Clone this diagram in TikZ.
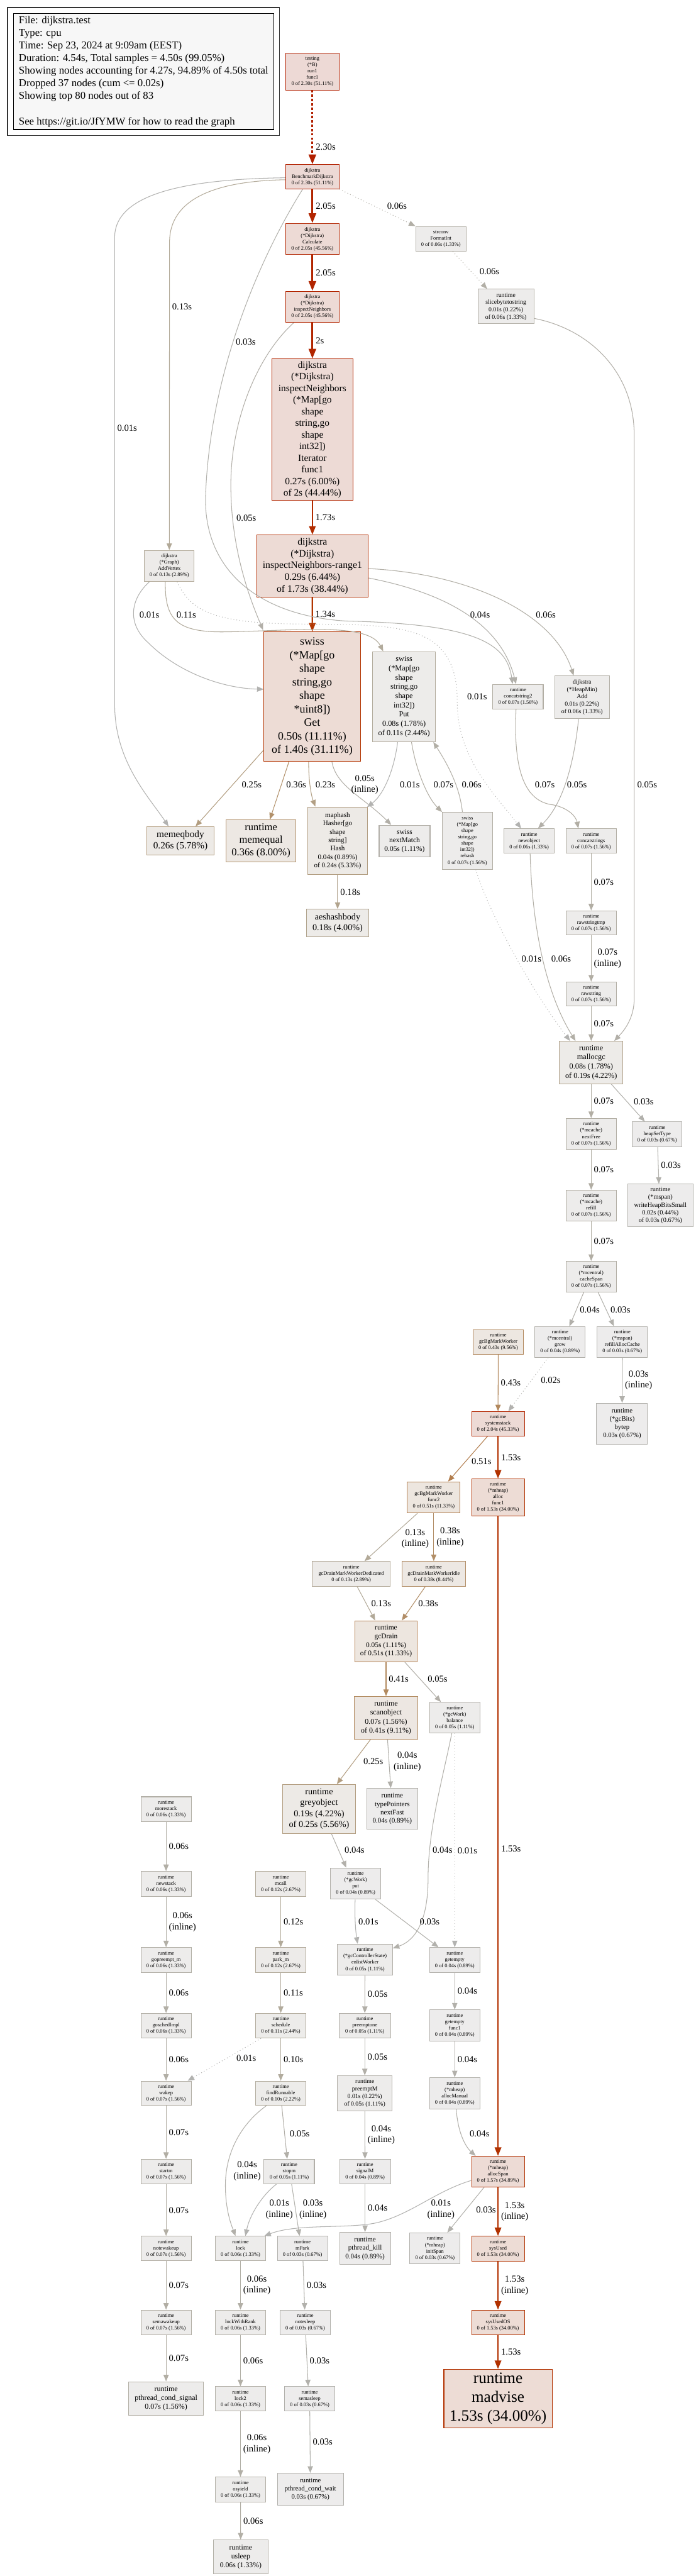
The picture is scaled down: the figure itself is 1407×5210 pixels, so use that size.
\documentclass[tikz,border=0pt]{standalone}
\usepackage{fontspec}
\setmainfont{Liberation Serif}
\usetikzlibrary{arrows.meta,calc,fit}

% pprof colour ramp: f = node fill, l = node border / edge
\definecolor{f230}{HTML}{EDD9D5}\definecolor{l230}{HTML}{B22000}
\definecolor{f205}{HTML}{EDDAD5}\definecolor{l205}{HTML}{B22500}
\definecolor{f200}{HTML}{EDDAD5}\definecolor{l200}{HTML}{B22600}
\definecolor{f173}{HTML}{EDDBD5}\definecolor{l173}{HTML}{B22C00}
\definecolor{f157}{HTML}{EDDBD5}\definecolor{l157}{HTML}{B23000}
\definecolor{f153}{HTML}{EDDCD5}\definecolor{l153}{HTML}{B23100}
\definecolor{f140}{HTML}{EDDCD5}\definecolor{l140}{HTML}{B23400}
\definecolor{l134}{HTML}{B23600}
\definecolor{f51}{HTML}{EDE6DF}\definecolor{l51}{HTML}{B27D4D}
\definecolor{f43}{HTML}{EDE7E1}\definecolor{l43}{HTML}{B2885D}
\definecolor{f41}{HTML}{EDE7E2}\definecolor{l41}{HTML}{B28A5F}
\definecolor{f38}{HTML}{EDE8E3}\definecolor{l38}{HTML}{B28E67}
\definecolor{f36}{HTML}{EDE8E3}\definecolor{l36}{HTML}{B2916B}
\definecolor{f26}{HTML}{EDEAE6}\definecolor{l26}{HTML}{B29C7E}
\definecolor{f25}{HTML}{EDEAE6}\definecolor{l25}{HTML}{B29D80}
\definecolor{f24}{HTML}{EDEAE6}\definecolor{l24}{HTML}{B29E82}
\definecolor{l23}{HTML}{B29F84}
\definecolor{f19}{HTML}{EDEBE8}\definecolor{l19}{HTML}{B2A38C}
\definecolor{f18}{HTML}{EDEBE8}\definecolor{l18}{HTML}{B2A48E}
\definecolor{f13}{HTML}{EDEBE9}\definecolor{l13}{HTML}{B2A998}
\definecolor{f12}{HTML}{EDEBE9}\definecolor{l12}{HTML}{B2AA9A}
\definecolor{f11}{HTML}{EDECEA}\definecolor{l11}{HTML}{B2AB9C}
\definecolor{f10}{HTML}{EDECEA}\definecolor{l10}{HTML}{B2AC9E}
\definecolor{f07}{HTML}{EDECEB}\definecolor{l07}{HTML}{B2AEA4}
\definecolor{f06}{HTML}{EDECEB}\definecolor{l06}{HTML}{B2AFA6}
\definecolor{f05}{HTML}{EDECEB}\definecolor{l05}{HTML}{B2AFA8}
\definecolor{f04}{HTML}{EDECEC}\definecolor{l04}{HTML}{B2B0AA}
\definecolor{f03}{HTML}{EDECEC}\definecolor{l03}{HTML}{B2B1AC}
\definecolor{l02}{HTML}{B2B1AE}
\definecolor{l01}{HTML}{B2B2B0}

\newcommand{\fsz}[1]{\fontsize{#1}{\fpeval{1.2*#1}}\selectfont}

\tikzset{
  fn/.style={rectangle, line width=1pt, inner sep=0pt, align=center,
             font=\fsz{8}},
  clr/.style={fill=f#1, draw=l#1},
  wh/.style 2 args={minimum width=#1*0.75pt, minimum height=#2*0.75pt},
  fs/.style={font=\fsz{#1}},
  legend/.style={rectangle, draw=black, line width=1pt, fill=black!3,
                 align=left, inner sep=0pt, font=\fsz{16}},
  flow/.style={-{Triangle[length=10pt,width=8pt]}, line width=1pt, draw=#1},
  w2/.style={line width=2pt, -{Triangle[length=13pt,width=10pt]}},
  w3/.style={line width=3pt, -{Triangle[length=15pt,width=11pt]}},
  resid/.style={dash pattern=on 1pt off 3.5pt},
  elab/.style={font=\fsz{14}, inner sep=0pt, align=center},
  el/.style={elab, anchor=west, xshift=3.75pt},
}

\begin{document}
\begin{tikzpicture}[x=0.75pt, y=-0.75pt]
\fill[white] (0,0) rectangle (1407,5210);
\useasboundingbox (0,0) rectangle (1407,5210);

% ── Legend ─────────────────────────────────────────────────
\node[legend, wh={527}{235}] (legend) at (290.5,144.5)
  {File: dijkstra.test\\Type: cpu\\Time: Sep 23, 2024 at 9:09am (EEST)\\
   Duration: 4.54s, Total samples = 4.50s (99.05\%)\\
   Showing nodes accounting for 4.27s, 94.89\% of 4.50s total\\
   Dropped 37 nodes (cum <= 0.02s)\\Showing top 80 nodes out of 83\\[19.2pt]
   See https://git.io/JfYMW for how to read the graph};
\node[draw=black!80, line width=1.2pt, fit=(legend), inner sep=8.25pt] (legendframe) {};

% ── Benchmark chain (top) ──────────────────────────────────
\node[fn, clr=230, wh={108}{75}] (testing) at (632,144.5) {testing\\(*B)\\run1\\func1\\0 of 2.30s (51.11\%)};
\node[fn, clr=230, wh={108}{49}] (bench) at (632,357.5) {dijkstra\\BenchmarkDijkstra\\0 of 2.30s (51.11\%)};
\node[fn, clr=205, wh={108}{63}] (calc) at (632,483.5) {dijkstra\\(*Dijkstra)\\Calculate\\0 of 2.05s (45.56\%)};
\node[fn, clr=205, wh={108}{63}] (inspect) at (632,620.5) {dijkstra\\(*Dijkstra)\\inspectNeighbors\\0 of 2.05s (45.56\%)};
\node[fn, clr=200, wh={164}{286}, fs=14.7] (iter) at (632,869)
  {dijkstra\\(*Dijkstra)\\inspectNeighbors\\(*Map[go\\shape\\string,go\\shape\\int32])\\Iterator\\func1\\0.27s (6.00\%)\\of 2s (44.44\%)};
\node[fn, clr=173, wh={226}{126}, fs=15] (range1) at (632,1145)
  {dijkstra\\(*Dijkstra)\\inspectNeighbors-range1\\0.29s (6.44\%)\\of 1.73s (38.44\%)};
\node[fn, clr=140, wh={195}{262}, fs=17.1] (get) at (631.5,1409)
  {swiss\\(*Map[go\\shape\\string,go\\shape\\{}*uint8])\\Get\\0.50s (11.11\%)\\of 1.40s (31.11\%)};
\node[fn, clr=13, wh={101}{63}] (addv) at (342.5,1144.5) {dijkstra\\(*Graph)\\AddVertex\\0 of 0.13s (2.89\%)};
\node[fn, clr=06, wh={102}{50}] (formatint) at (892,483) {strconv\\FormatInt\\0 of 0.06s (1.33\%)};
\node[fn, clr=06, wh={113}{70}, fs=9.3] (slice) at (1023.5,620) {runtime\\slicebytetostring\\0.01s (0.22\%)\\of 0.06s (1.33\%)};

% ── Map operations ─────────────────────────────────────────
\node[fn, clr=11, wh={127}{182}, fs=11.7] (put) at (817.5,1409)
  {swiss\\(*Map[go\\shape\\string,go\\shape\\int32])\\Put\\0.08s (1.78\%)\\of 0.11s (2.44\%)};
\node[fn, clr=07, wh={102}{50}] (concat2) at (1048,1409) {runtime\\concatstring2\\0 of 0.07s (1.56\%)};
\node[fn, clr=06, wh={111}{86}, fs=9.3] (heapadd) at (1177.5,1410) {dijkstra\\(*HeapMin)\\Add\\0.01s (0.22\%)\\of 0.06s (1.33\%)};
\node[fn, clr=26, wh={136}{57}, fs=14.6] (memeqbody) at (365,1700.5) {memeqbody\\0.26s (5.78\%)};
\node[fn, clr=36, wh={142}{85}, fs=15.8] (memequal) at (528,1700.5) {runtime\\memequal\\0.36s (8.00\%)};
\node[fn, clr=24, wh={120}{137}, fs=10.6] (maphash) at (683,1700.5)
  {maphash\\Hasher[go\\shape\\string]\\Hash\\0.04s (0.89\%)\\of 0.24s (5.33\%)};
\node[fn, clr=05, wh={103}{64}, fs=10.9] (nextmatch) at (818.5,1701) {swiss\\nextMatch\\0.05s (1.11\%)};
\node[fn, clr=07, wh={101}{115}] (rehash) at (945.5,1700.5)
  {swiss\\(*Map[go\\shape\\string,go\\shape\\int32])\\rehash\\0 of 0.07s (1.56\%)};
\node[fn, clr=06, wh={101}{50}] (newobj) at (1070.5,1701) {runtime\\newobject\\0 of 0.06s (1.33\%)};
\node[fn, clr=07, wh={102}{50}] (concats) at (1196,1701) {runtime\\concatstrings\\0 of 0.07s (1.56\%)};
\node[fn, clr=18, wh={126}{55}, fs=13.5] (aeshash) at (683,1866.5) {aeshashbody\\0.18s (4.00\%)};

% ── Allocation path (right) ────────────────────────────────
\node[fn, clr=07, wh={102}{49}] (rawtmp) at (1196,1866.5) {runtime\\rawstringtmp\\0 of 0.07s (1.56\%)};
\node[fn, clr=07, wh={102}{49}] (rawstr) at (1196,2010.5) {runtime\\rawstring\\0 of 0.07s (1.56\%)};
\node[fn, clr=19, wh={128}{86}, fs=11.7] (mallocgc) at (1196,2149) {runtime\\mallocgc\\0.08s (1.78\%)\\of 0.19s (4.22\%)};
\node[fn, clr=07, wh={102}{63}] (nextfree) at (1196,2293.5) {runtime\\(*mcache)\\nextFree\\0 of 0.07s (1.56\%)};
\node[fn, clr=03, wh={101}{50}] (heapsettype) at (1329.5,2294) {runtime\\heapSetType\\0 of 0.03s (0.67\%)};
\node[fn, clr=07, wh={102}{62}] (refill) at (1196,2438) {runtime\\(*mcache)\\refill\\0 of 0.07s (1.56\%)};
\node[fn, clr=03, wh={132}{86}, fs=9.8] (writeheap) at (1336,2438) {runtime\\(*mspan)\\writeHeapBitsSmall\\0.02s (0.44\%)\\of 0.03s (0.67\%)};
\node[fn, clr=07, wh={102}{62}] (cachespan) at (1196,2582) {runtime\\(*mcentral)\\cacheSpan\\0 of 0.07s (1.56\%)};
\node[fn, clr=04, wh={102}{62}] (grow) at (1133,2714) {runtime\\(*mcentral)\\grow\\0 of 0.04s (0.89\%)};
\node[fn, clr=03, wh={102}{62}] (refillac) at (1259,2714) {runtime\\(*mspan)\\refillAllocCache\\0 of 0.03s (0.67\%)};
\node[fn, clr=03, wh={103}{83}, fs=10.2] (bytep) at (1258.5,2879.5) {runtime\\(*gcBits)\\bytep\\0.03s (0.67\%)};

% ── GC workers and system stack ────────────────────────────
\node[fn, clr=43, wh={102}{50}] (bgmark) at (1008,2714) {runtime\\gcBgMarkWorker\\0 of 0.43s (9.56\%)};
\node[fn, clr=205, wh={107}{49}] (sysstack) at (1007.5,2879.5) {runtime\\systemstack\\0 of 2.04s (45.33\%)};
\node[fn, clr=51, wh={107}{63}] (func2) at (877.5,3028.5) {runtime\\gcBgMarkWorker\\func2\\0 of 0.51s (11.33\%)};
\node[fn, clr=153, wh={107}{75}] (allocf1) at (1007.5,3028.5) {runtime\\(*mheap)\\alloc\\func1\\0 of 1.53s (34.00\%)};
\node[fn, clr=13, wh={157}{50}] (dedicated) at (710.5,3183) {runtime\\gcDrainMarkWorkerDedicated\\0 of 0.13s (2.89\%)};
\node[fn, clr=38, wh={129}{50}] (idle) at (877.5,3183) {runtime\\gcDrainMarkWorkerIdle\\0 of 0.38s (8.44\%)};
\node[fn, clr=51, wh={126}{83}, fs=10.9] (gcdrain) at (781,3319.5) {runtime\\gcDrain\\0.05s (1.11\%)\\of 0.51s (11.33\%)};
\node[fn, clr=41, wh={128}{86}, fs=11.4] (scanobj) at (781,3474) {runtime\\scanobject\\0.07s (1.56\%)\\of 0.41s (9.11\%)};
\node[fn, clr=05, wh={102}{62}] (balance) at (920,3474) {runtime\\(*gcWork)\\balance\\0 of 0.05s (1.11\%)};
\node[fn, clr=25, wh={147}{99}, fs=13.6] (greyobj) at (645.5,3658.5) {runtime\\greyobject\\0.19s (4.22\%)\\of 0.25s (5.56\%)};
\node[fn, clr=04, wh={103}{83}, fs=10.6] (nextfast) at (793.5,3658.5) {runtime\\typePointers\\nextFast\\0.04s (0.89\%)};
\node[fn, clr=04, wh={101}{63}] (gcput) at (719.5,3809.5) {runtime\\(*gcWork)\\put\\0 of 0.04s (0.89\%)};
\node[fn, clr=05, wh={111}{63}] (enlist) at (738.5,3963.5) {runtime\\(*gcControllerState)\\enlistWorker\\0 of 0.05s (1.11\%)};
\node[fn, clr=04, wh={102}{50}] (getempty) at (920,3964) {runtime\\getempty\\0 of 0.04s (0.89\%)};
\node[fn, clr=05, wh={104}{50}] (preemptone) at (738,4097) {runtime\\preemptone\\0 of 0.05s (1.11\%)};
\node[fn, clr=04, wh={102}{63}] (getemptyf1) at (920,4096.5) {runtime\\getempty\\func1\\0 of 0.04s (0.89\%)};
\node[fn, clr=05, wh={110}{71}, fs=9.3] (preemptm) at (738,4233.5) {runtime\\preemptM\\0.01s (0.22\%)\\of 0.05s (1.11\%)};
\node[fn, clr=04, wh={102}{63}] (allocman) at (920,4233.5) {runtime\\(*mheap)\\allocManual\\0 of 0.04s (0.89\%)};
\node[fn, clr=04, wh={103}{50}] (signalm) at (738.5,4392) {runtime\\signalM\\0 of 0.04s (0.89\%)};
\node[fn, clr=157, wh={107}{62}] (allocspan) at (1007.5,4392) {runtime\\(*mheap)\\allocSpan\\0 of 1.57s (34.89\%)};
\node[fn, clr=04, wh={103}{65}, fs=10.6] (pkill) at (738.5,4547.5) {runtime\\pthread\_kill\\0.04s (0.89\%)};
\node[fn, clr=03, wh={102}{63}] (initspan) at (880,4547.5) {runtime\\(*mheap)\\initSpan\\0 of 0.03s (0.67\%)};
\node[fn, clr=153, wh={107}{50}] (sysused) at (1007.5,4548) {runtime\\sysUsed\\0 of 1.53s (34.00\%)};
\node[fn, clr=153, wh={107}{50}] (sysusedos) at (1007.5,4697) {runtime\\sysUsedOS\\0 of 1.53s (34.00\%)};
\node[fn, clr=153, wh={219}{118}, fs=24] (madvise) at (1007.5,4851) {runtime\\madvise\\1.53s (34.00\%)};

% ── Scheduler (bottom left) ────────────────────────────────
\node[fn, clr=06, wh={102}{50}] (morestack) at (336,3659) {runtime\\morestack\\0 of 0.06s (1.33\%)};
\node[fn, clr=06, wh={102}{50}] (newstack) at (336,3810) {runtime\\newstack\\0 of 0.06s (1.33\%)};
\node[fn, clr=06, wh={102}{50}] (gopreempt) at (336,3964) {runtime\\gopreempt\_m\\0 of 0.06s (1.33\%)};
\node[fn, clr=06, wh={102}{50}] (gosched) at (336,4097) {runtime\\goschedImpl\\0 of 0.06s (1.33\%)};
\node[fn, clr=07, wh={102}{49}] (wakep) at (336,4233.5) {runtime\\wakep\\0 of 0.07s (1.56\%)};
\node[fn, clr=07, wh={102}{50}] (startm) at (336,4392) {runtime\\startm\\0 of 0.07s (1.56\%)};
\node[fn, clr=07, wh={102}{49}] (notewake) at (336,4547.5) {runtime\\notewakeup\\0 of 0.07s (1.56\%)};
\node[fn, clr=07, wh={102}{50}] (semawake) at (336,4697) {runtime\\semawakeup\\0 of 0.07s (1.56\%)};
\node[fn, clr=07, wh={152}{68}, fs=11.4] (pcsignal) at (336,4851) {runtime\\pthread\_cond\_signal\\0.07s (1.56\%)};
\node[fn, clr=12, wh={102}{50}] (mcall) at (568,3810) {runtime\\mcall\\0 of 0.12s (2.67\%)};
\node[fn, clr=12, wh={102}{50}] (parkm) at (568,3964) {runtime\\park\_m\\0 of 0.12s (2.67\%)};
\node[fn, clr=11, wh={102}{50}] (schedule) at (568,4097) {runtime\\schedule\\0 of 0.11s (2.44\%)};
\node[fn, clr=10, wh={102}{49}] (findrun) at (568,4233.5) {runtime\\findRunnable\\0 of 0.10s (2.22\%)};
\node[fn, clr=05, wh={102}{50}] (stopm) at (585,4392) {runtime\\stopm\\0 of 0.05s (1.11\%)};
\node[fn, clr=06, wh={101}{49}] (lock) at (486.5,4547.5) {runtime\\lock\\0 of 0.06s (1.33\%)};
\node[fn, clr=03, wh={102}{49}] (mpark) at (612,4547.5) {runtime\\mPark\\0 of 0.03s (0.67\%)};
\node[fn, clr=06, wh={101}{50}] (lockrank) at (486.5,4697) {runtime\\lockWithRank\\0 of 0.06s (1.33\%)};
\node[fn, clr=03, wh={101}{50}] (notesleep) at (617.5,4697) {runtime\\notesleep\\0 of 0.03s (0.67\%)};
\node[fn, clr=06, wh={101}{49}] (lock2) at (486.5,4851.5) {runtime\\lock2\\0 of 0.06s (1.33\%)};
\node[fn, clr=03, wh={101}{49}] (semasleep) at (626.5,4851.5) {runtime\\semasleep\\0 of 0.03s (0.67\%)};
\node[fn, clr=06, wh={101}{50}] (osyield) at (486.5,5035) {runtime\\osyield\\0 of 0.06s (1.33\%)};
\node[fn, clr=03, wh={134}{65}, fs=10.2] (pcwait) at (628,5034.5) {runtime\\pthread\_cond\_wait\\0.03s (0.67\%)};
\node[fn, clr=06, wh={110}{69}, fs=11.2] (usleep) at (487,5171.5) {runtime\\usleep\\0.06s (1.33\%)};

% ── Hot path edges ─────────────────────────────────────────
\draw[flow=l230, w3, dash pattern=on 3.5pt off 3pt] (testing) -- (bench) node[el, pos=0.77] {2.30s};
\draw[flow=l205, w3] (bench) -- (calc) node[el, midway] {2.05s};
\draw[flow=l205, w3] (calc) -- (inspect) node[el, midway] {2.05s};
\draw[flow=l200, w3] (inspect) -- (iter) node[el, midway] {2s};
\draw[flow=l173, w2] (iter) -- (range1) node[el, midway] {1.73s};
\draw[flow=l134, w2] (range1) -- (get) node[el, midway] {1.34s};

% ── Edges out of the benchmark ─────────────────────────────
\draw[flow=l01] ($(bench.west)+(0,2)$) .. controls (400,362) and (232,385) .. (232,480)
      -- (232,1425) .. controls (232,1540) and (300,1610) .. ($(memeqbody.north)+(-24,0)$);
\node[elab, anchor=west] (lb1) at (237,866) {0.01s};
\draw[flow=l13] ($(bench.west)+(0,6)$) .. controls (440,366) and (343,400) .. (343,490) -- (addv.north);
\node[elab, anchor=west] (lb2) at (348,620) {0.13s};
\draw[flow=l03] ($(bench.south west)+(35,0)$) .. controls (520,530) and (425,760) .. (416,1000)
      .. controls (410,1150) and (520,1245) .. (700,1256)
      .. controls (960,1262) and (1025,1300) .. ($(concat2.north)+(-11,0)$);
\node[elab, anchor=west] (lb3) at (477,691) {0.03s};
\draw[flow=l06, resid] (bench.south east) -- (formatint.north west);
\node[elab, anchor=west] (lb4) at (783,417) {0.06s};
\draw[flow=l06, resid] ($(formatint.south)+(24,0)$) -- ($(slice.north)+(-38,0)$);
\node[elab, anchor=west] (lb5) at (970,549) {0.06s};
\draw[flow=l05] ($(slice.east)+(0,24)$) .. controls (1190,665) and (1283,750) .. (1283,880)
      -- (1283,2020) .. controls (1283,2060) and (1262,2085) .. ($(mallocgc.north east)+(-18,0)$);
\node[elab, anchor=west] (lb6) at (1289,1587) {0.05s};
\draw[flow=l05] ($(inspect.south west)+(17,0)$) .. controls (520,720) and (467,850) .. (467,981)
      .. controls (467,1110) and (505,1210) .. ($(get.north west)+(-1,-3)$);
\node[elab, anchor=west] (lb7) at (478,1048) {0.05s};

% ── AddVertex and range1 fan-out ───────────────────────────
\draw[flow=l01] ($(addv.south west)+(11,0)$) .. controls (265,1210) and (255,1260) .. (300,1300)
      .. controls (360,1360) and (450,1392) .. ($(get.west)+(0,-15)$);
\node[elab, anchor=west] (lb8) at (282,1243) {0.01s};
\draw[flow=l11] ($(addv.south)+(-8,0)$) .. controls (333,1255) and (360,1278) .. (450,1278)
      .. controls (600,1276) and (745,1258) .. ($(put.north west)+(22,0)$);
\node[elab, anchor=west] (lb9) at (357,1243) {0.11s};
\draw[flow=l01, resid] ($(addv.south)+(16,0)$) .. controls (385,1235) and (430,1260) .. (600,1262)
      .. controls (800,1264) and (926,1255) .. (925,1420)
      .. controls (925,1530) and (995,1600) .. ($(newobj.north west)+(35,0)$);
\node[elab, anchor=west] (lb10) at (945,1409) {0.01s};
\draw[flow=l04] ($(range1.east)+(0,24)$) .. controls (880,1195) and (1010,1250) .. ($(concat2.north)+(-4,0)$);
\node[elab, anchor=west] (lb11) at (951,1243) {0.04s};
\draw[flow=l06] ($(range1.east)+(0,5)$) .. controls (950,1160) and (1120,1240) .. ($(heapadd.north)+(-17,0)$);
\node[elab, anchor=west] (lb12) at (1084,1243) {0.06s};

% ── Get / Put fan-out ──────────────────────────────────────
\draw[flow=l25] ($(get.west)+(0,108)$) -- ($(memeqbody.north east)+(-38,0)$);
\node[elab, anchor=west] (lb13) at (489,1587) {0.25s};
\draw[flow=l36] ($(get.south)+(-47,0)$) -- ($(memequal.north)+(18,0)$);
\node[elab, anchor=west] (lb14) at (579,1587) {0.36s};
\draw[flow=l23] ($(get.south)+(-7,0)$) .. controls (624,1580) and (630,1610) .. ($(maphash.north)+(-45,0)$);
\node[elab, anchor=west] (lb15) at (638,1587) {0.23s};
\draw[flow=l05] ($(get.south)+(40,0)$) .. controls (680,1590) and (735,1612) .. ($(nextmatch.north)+(-27,0)$);
\node[elab] (lb16) at (738,1587) {0.05s\\(inline)};
\draw[flow=l01] ($(put.south)+(-13,0)$) .. controls (797,1560) and (775,1608) .. ($(maphash.north east)+(-1,1)$);
\node[elab, anchor=west] (lb17) at (809,1587) {0.01s};
\draw[flow=l07] ($(put.south)+(15,0)$) .. controls (840,1550) and (862,1610) .. (rehash.north west);
\node[elab, anchor=west] (lb18) at (877,1587) {0.07s};
\draw[flow=l06] ($(rehash.north)+(-10,0)$) .. controls (930,1590) and (905,1545) .. ($(put.south east)+(-5,0)$);
\node[elab, anchor=west] (lb19) at (934,1587) {0.06s};
\draw[flow=l07] ($(concat2.south)+(-4,0)$) .. controls (1038,1560) and (1062,1622) .. (1120,1628)
      .. controls (1148,1634) and (1165,1650) .. ($(concats.north)+(-26,0)$);
\node[elab, anchor=west] (lb20) at (1082,1587) {0.07s};
\draw[flow=l05] ($(heapadd.south)+(-7,0)$) .. controls (1162,1540) and (1140,1625) .. ($(newobj.north)+(18,0)$);
\node[elab, anchor=west] (lb21) at (1147,1587) {0.05s};
\draw[flow=l18] (maphash) -- (aeshash) node[el, midway] {0.18s};

% ── mallocgc chain ─────────────────────────────────────────
\draw[flow=l07] (concats) -- (rawtmp) node[el, midway] {0.07s};
\draw[flow=l07] (rawtmp) -- (rawstr) node[el, midway] {0.07s\\(inline)};
\draw[flow=l07] (rawstr) -- (mallocgc) node[el, midway] {0.07s};
\draw[flow=l01, resid] ($(rehash.south)+(17,0)$) .. controls (990,1850) and (1080,2010) .. ($(mallocgc.north west)+(22,0)$);
\node[elab, anchor=west] (lb22) at (1055,1939) {0.01s};
\draw[flow=l06] ($(newobj.south)+(2,0)$) .. controls (1077,1880) and (1105,2010) .. ($(mallocgc.north west)+(33,0)$);
\node[elab, anchor=west] (lb23) at (1115,1939) {0.06s};
\draw[flow=l07] (mallocgc) -- (nextfree) node[el, midway] {0.07s};
\draw[flow=l03] ($(mallocgc.south east)+(-24,0)$) -- ($(heapsettype.north)+(-25,0)$);
\node[elab, anchor=west] (lb24) at (1282,2228) {0.03s};
\draw[flow=l07] (nextfree) -- (refill) node[el, midway] {0.07s};
\draw[flow=l03] ($(heapsettype.south)+(1,0)$) -- ($(writeheap.north)+(-3,0)$) node[el, midway] {0.03s};
\draw[flow=l07] (refill) -- (cachespan) node[el, midway] {0.07s};
\draw[flow=l04] ($(cachespan.south)+(-15,0)$) -- ($(grow.north)+(19,0)$);
\node[elab, anchor=west] (lb25) at (1173,2649) {0.04s};
\draw[flow=l03] ($(cachespan.south)+(14,0)$) -- ($(refillac.north)+(-17,0)$);
\node[elab, anchor=west] (lb26) at (1235,2649) {0.03s};
\draw[flow=l02, resid] ($(grow.south)+(-24,0)$) -- ($(sysstack.north)+(21,0)$);
\node[elab, anchor=west] (lb27) at (1094,2792) {0.02s};
\draw[flow=l43] (bgmark) -- (sysstack) node[el, midway] {0.43s};
\draw[flow=l03] (refillac) -- (bytep) node[el, midway] {0.03s\\(inline)};

% ── System stack: GC drain and span alloc ──────────────────
\draw[flow=l51] ($(sysstack.south)+(-21,0)$) -- ($(func2.north)+(29,0)$);
\node[elab, anchor=west] (lb28) at (954,2956) {0.51s};
\draw[flow=l153, w2] (sysstack) -- (allocf1) node[el, midway] {1.53s};
\draw[flow=l13] ($(func2.south)+(-33,0)$) -- ($(dedicated.north)+(27,0)$);
\node[elab] (lb29) at (840,3112) {0.13s\\(inline)};
\draw[flow=l38] (func2) -- (idle) node[el, midway] {0.38s\\(inline)};
\draw[flow=l13] ($(dedicated.south)+(12,0)$) -- ($(gcdrain.north)+(-22,0)$);
\node[elab, anchor=west] (lb30) at (751,3243) {0.13s};
\draw[flow=l38] ($(idle.south)+(-17,0)$) -- ($(gcdrain.north)+(32,0)$);
\node[elab, anchor=west] (lb31) at (846,3243) {0.38s};
\draw[flow=l41] (gcdrain) -- (scanobj) node[el, midway] {0.41s};
\draw[flow=l05] ($(gcdrain.south)+(38,0)$) -- ($(balance.north)+(-28,0)$);
\node[elab, anchor=west] (lb32) at (865,3396) {0.05s};
\draw[flow=l153, w2] (allocf1) -- (allocspan) node[el, pos=0.52] {1.53s};
\draw[flow=l25] ($(scanobj.south)+(-31,0)$) -- ($(greyobj.north)+(36,0)$);
\node[elab, anchor=west] (lb33) at (735,3563) {0.25s};
\draw[flow=l04] ($(scanobj.south)+(3,0)$) -- ($(nextfast.north)+(-3,0)$);
\node[elab] (lb34) at (824,3563) {0.04s\\(inline)};
\draw[flow=l04] ($(greyobj.south)+(25,0)$) -- ($(gcput.north)+(-19,0)$);
\node[elab, anchor=west] (lb35) at (697,3742) {0.04s};
\draw[flow=l04] ($(balance.south)+(-6,0)$) .. controls (895,3600) and (866,3700) .. (866,3800)
      .. controls (866,3885) and (840,3925) .. ($(enlist.north east)+(0,9)$);
\node[elab, anchor=west] (lb36) at (875,3742) {0.04s};
\draw[flow=l01, resid] (balance) -- (getempty) node[el, pos=0.55] {0.01s};
\draw[flow=l01] ($(gcput.south)+(-1,0)$) .. controls (717,3880) and (720,3910) .. ($(enlist.north)+(-15,0)$);
\node[elab, anchor=west] (lb37) at (725,3887) {0.01s};
\draw[flow=l03] ($(gcput.south east)+(-11,0)$) -- ($(getempty.north)+(-33,0)$);
\node[elab, anchor=west] (lb38) at (849,3887) {0.03s};
\draw[flow=l05] (enlist) -- (preemptone) node[el, midway] {0.05s};
\draw[flow=l04] (getempty) -- (getemptyf1) node[el, midway] {0.04s};
\draw[flow=l05] (preemptone) -- (preemptm) node[el, midway] {0.05s};
\draw[flow=l04] (getemptyf1) -- (allocman) node[el, midway] {0.04s};
\draw[flow=l04] (preemptm) -- (signalm) node[el, midway] {0.04s\\(inline)};
\draw[flow=l04] ($(allocman.south)+(3,0)$) .. controls (926,4310) and (940,4340) .. ($(allocspan.north west)+(9,0)$);
\node[elab, anchor=west] (lb39) at (950,4315) {0.04s};
\draw[flow=l04] (signalm) -- (pkill) node[el, midway] {0.04s};
\draw[flow=l01] ($(allocspan.west)+(0,18)$) .. controls (880,4432) and (830,4480) .. (760,4496)
      .. controls (700,4508) and (600,4497) .. ($(lock.north east)+(-3,0)$);
\node[elab] (lb40) at (892,4469) {0.01s\\(inline)};
\draw[flow=l03] ($(allocspan.south)+(-28,0)$) -- ($(initspan.north)+(25,0)$);
\node[elab, anchor=west] (lb41) at (963,4469) {0.03s};
\draw[flow=l153, w2] (allocspan) -- (sysused) node[el, midway] {1.53s\\(inline)};
\draw[flow=l153, w2] (sysused) -- (sysusedos) node[el, midway] {1.53s\\(inline)};
\draw[flow=l153, w2] (sysusedos) -- (madvise) node[el, midway] {1.53s};

% ── Scheduler edges ────────────────────────────────────────
\draw[flow=l06] (morestack) -- (newstack) node[el, midway] {0.06s};
\draw[flow=l06] (newstack) -- (gopreempt) node[el, midway] {0.06s\\(inline)};
\draw[flow=l06] (gopreempt) -- (gosched) node[el, midway] {0.06s};
\draw[flow=l06] (gosched) -- (wakep) node[el, midway] {0.06s};
\draw[flow=l07] (wakep) -- (startm) node[el, midway] {0.07s};
\draw[flow=l07] (startm) -- (notewake) node[el, midway] {0.07s};
\draw[flow=l07] (notewake) -- (semawake) node[el, midway] {0.07s};
\draw[flow=l07] (semawake) -- (pcsignal) node[el, midway] {0.07s};
\draw[flow=l12] (mcall) -- (parkm) node[el, midway] {0.12s};
\draw[flow=l11] (parkm) -- (schedule) node[el, midway] {0.11s};
\draw[flow=l10] (schedule) -- (findrun) node[el, midway] {0.10s};
\draw[flow=l01, resid] ($(schedule.south)+(-40,0)$) -- ($(wakep.north east)+(-8,0)$);
\node[elab, anchor=west] (lb42) at (478,4163) {0.01s};
\draw[flow=l04] ($(findrun.south)+(-29,0)$) .. controls (482,4300) and (456,4360) .. (456,4420)
      .. controls (456,4470) and (468,4500) .. ($(lock.north)+(-10,0)$);
\node[elab] (lb43) at (500,4391) {0.04s\\(inline)};
\draw[flow=l05] ($(findrun.south)+(2,0)$) -- ($(stopm.north)+(-4,0)$);
\node[elab, anchor=west] (lb44) at (586,4315) {0.05s};
\draw[flow=l01] ($(stopm.south)+(-26,0)$) .. controls (530,4440) and (505,4480) .. ($(lock.north)+(10,0)$);
\node[elab] (lb45) at (565,4469) {0.01s\\(inline)};
\draw[flow=l03] ($(stopm.south)+(5,0)$) -- ($(mpark.north)+(-6,0)$);
\node[elab] (lb46) at (633,4469) {0.03s\\(inline)};
\draw[flow=l06] (lock) -- (lockrank) node[el, midway] {0.06s\\(inline)};
\draw[flow=l03] ($(mpark.south)+(1,0)$) -- ($(notesleep.north)+(-1,0)$) node[el, midway] {0.03s};
\draw[flow=l06] (lockrank) -- (lock2) node[el, midway] {0.06s};
\draw[flow=l03] ($(notesleep.south)+(1,0)$) -- ($(semasleep.north)+(-3,0)$) node[el, midway] {0.03s};
\draw[flow=l06] (lock2) -- (osyield) node[el, midway] {0.06s\\(inline)};
\draw[flow=l03] (semasleep) -- (pcwait) node[el, midway] {0.03s};
\draw[flow=l06] (osyield) -- (usleep) node[el, midway] {0.06s};

\end{tikzpicture}
\end{document}
